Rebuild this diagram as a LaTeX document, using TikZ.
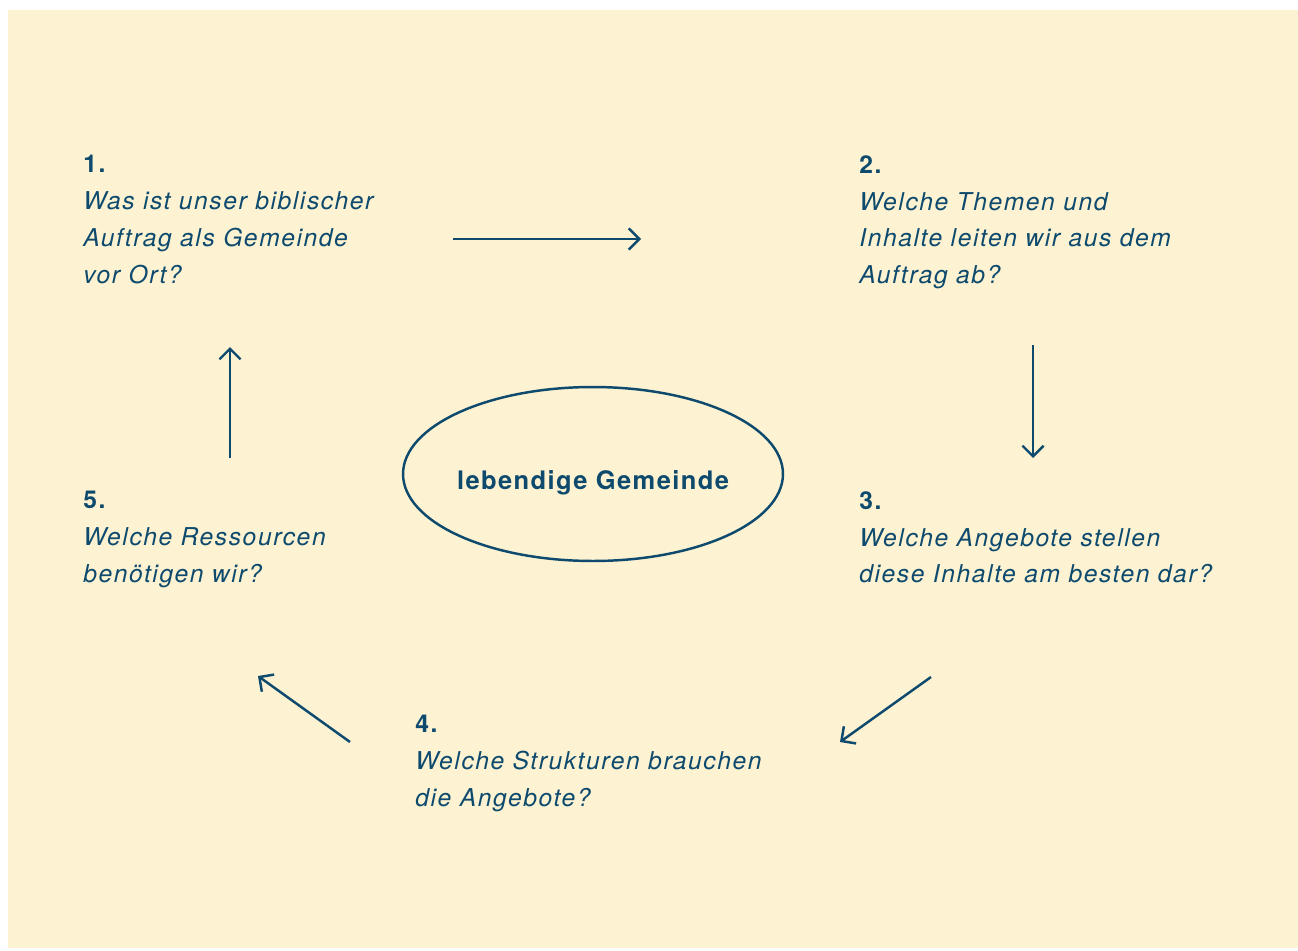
\documentclass[tikz,border=0pt]{standalone}
\usepackage{fontspec}
\setmainfont{TeX Gyre Heros}
\newfontfamily\gemfont[LetterSpace=6.5]{TeX Gyre Heros}
\newfontfamily\mittefont[LetterSpace=5.5]{TeX Gyre Heros}
\usetikzlibrary{shapes.geometric,arrows.meta}
\definecolor{gemblau}{HTML}{0D4A6E}
\definecolor{gemgelb}{HTML}{FDF2D1}

\begin{document}
\begin{tikzpicture}[x=0.02cm,y=-0.02cm,
        frage/.style={anchor=north west,inner sep=0pt,align=left,text=gemblau,
            font=\gemfont\fontsize{14}{21}\selectfont},
        pfeil/.style={draw=gemblau,line width=1.4pt,-{Straight Barb[length=6pt,width=12pt,line width=1.4pt]}}]
        % Hintergrund
        \useasboundingbox (0,0) rectangle (1298,950);
        \fill[white] (0,0) rectangle (1298,950);
        \fill[gemgelb] (8,10) rectangle (1298,948);

        % die fuenf Fragen
        \node[frage] (f1) at (83,155) {\textbf{1.}\\ \textit{Was ist unser biblischer}\\ \textit{Auftrag als Gemeinde}\\ \textit{vor Ort?}};
        \node[frage] (f2) at (859,155) {\textbf{2.}\\ \textit{Welche Themen und}\\ \textit{Inhalte leiten wir aus dem}\\ \textit{Auftrag ab?}};
        \node[frage] (f3) at (859,491) {\textbf{3.}\\ \textit{Welche Angebote stellen}\\ \textit{diese Inhalte am besten dar?}};
        \node[frage] (f4) at (415,715) {\textbf{4.}\\ \textit{Welche Strukturen brauchen}\\ \textit{die Angebote?}};
        \node[frage] (f5) at (83,491) {\textbf{5.}\\ \textit{Welche Ressourcen}\\ \textit{benötigen wir?}};

        % Mitte
        \node[ellipse,draw=gemblau,line width=1.4pt,inner sep=0pt,minimum width=7.6cm,minimum height=3.48cm,
            label={[text=gemblau,font=\mittefont\fontsize{14.5}{17}\selectfont\bfseries,yshift=-5pt]center:lebendige Gemeinde}] (mitte) at (593,474) {};

        % Pfeile im Kreis
        \coordinate (p12a) at (453,239);
        \coordinate (p12b) at (641,239);
        \coordinate (p23a) at (1033,345);
        \coordinate (p23b) at (1033,458);
        \coordinate (p34a) at (931,677);
        \coordinate (p34b) at (840,742);
        \coordinate (p45a) at (350,742);
        \coordinate (p45b) at (258,676);
        \coordinate (p51a) at (230,458);
        \coordinate (p51b) at (230,347);
        \draw[pfeil] (p12a) -- (p12b);
        \draw[pfeil] (p23a) -- (p23b);
        \draw[pfeil] (p34a) -- (p34b);
        \draw[pfeil] (p45a) -- (p45b);
        \draw[pfeil] (p51a) -- (p51b);
    \end{tikzpicture}
\end{document}
